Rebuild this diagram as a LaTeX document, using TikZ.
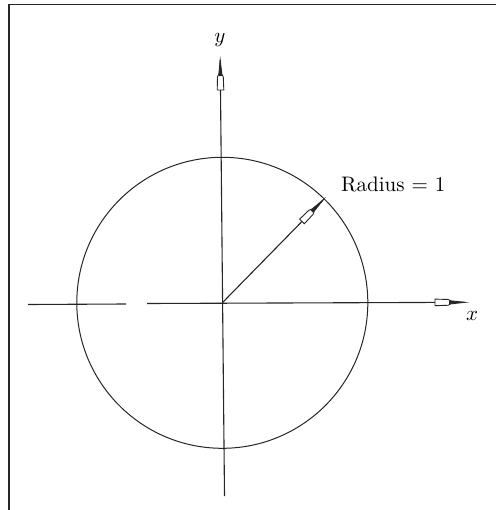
\documentclass[tikz,border=0pt]{standalone}
\usepackage{graphicx}
\newcommand{\bigtxt}[1]{\scalebox{2.1}{#1}}
\begin{document}
\begin{tikzpicture}[x=1pt,y=-1pt,
  axis/.style={line width=1.1pt, draw=black!85},
  frame/.style={line width=1.4pt, draw=black!85},
  lbl/.style={inner sep=0pt},
  openhead/.pic={
    \draw[line width=0.9pt, draw=black!85, fill=white, line join=miter]
      (-30,-3.3) -- (-17,-2.9) -- (-14,-1.5) -- (0,0) -- (-14,1.5) -- (-17,2.9) -- (-30,3.3) -- cycle;
    \fill[black!85] (-16,-1.6) -- (0,0) -- (-16,1.6) -- cycle;
  }]
\useasboundingbox (0,0) rectangle (496,510);
% frame (top and left sides)
\coordinate (fl) at (9,4.5);
\coordinate (fr) at (496,4.5);
\coordinate (fb) at (9,510);
\draw[frame] (fr) -- (fl) -- (fb);
% circle
\coordinate (O) at (222.3,302.8);
\node[draw=black!85, line width=1pt, circle, minimum size=291pt, inner sep=0pt] (circ) at (O) {};
% y axis
\coordinate (ytip) at (220.2,60);
\coordinate (ybot) at (224.5,496);
\draw[axis] (ybot) -- (ytip);
\pic[rotate=90.6] at (ytip) {openhead};
\node[lbl] (ylab) at (220,40) {\bigtxt{$y$}};
% x axis
\coordinate (xl1) at (28,304.5);
\coordinate (xl2) at (126,304);
\coordinate (xr1) at (147,303.5);
\coordinate (xtip) at (465,302.3);
\draw[axis] (xl1) -- (xl2);
\draw[axis] (xr1) -- (xtip);
\pic[rotate=0.2] at (xtip) {openhead};
\node[lbl] (xlab) at (472,316) {\bigtxt{$x$}};
% radius arrow
\coordinate (rtip) at (323,200);
\draw[axis] (O) -- (rtip);
\pic[rotate=45.6] at (rtip) {openhead};
\node[lbl, anchor=base west] (rlab) at (341,192) {\bigtxt{Radius = 1}};
\end{tikzpicture}
\end{document}
